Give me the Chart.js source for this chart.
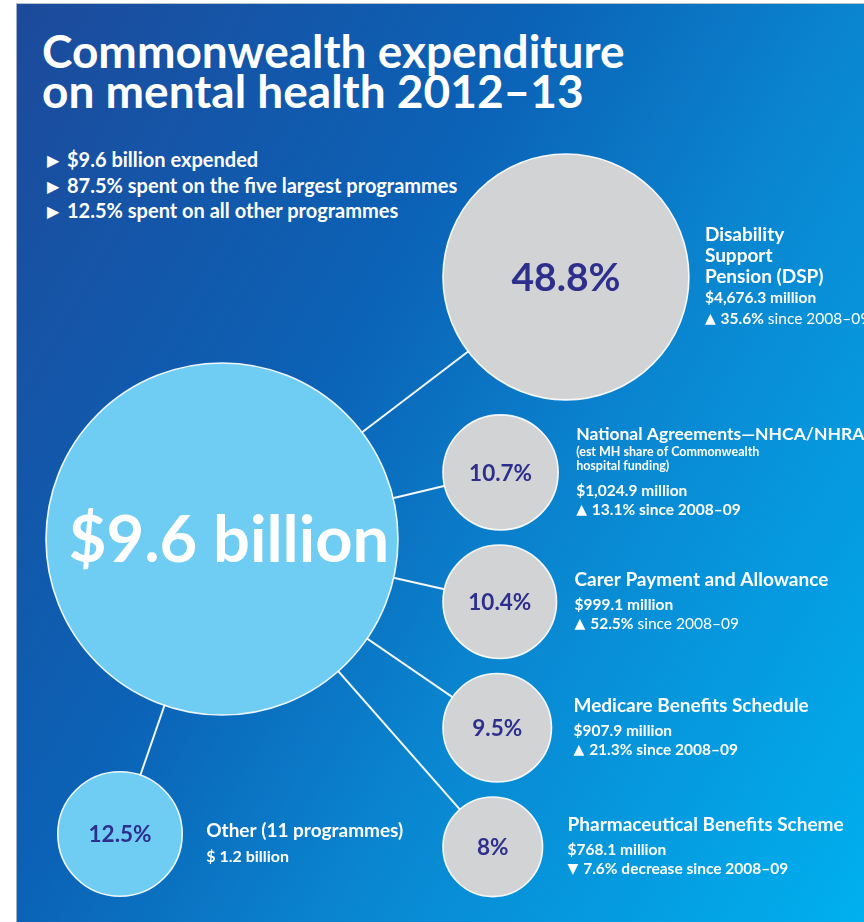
<!DOCTYPE html>
<html>
<head>
<meta charset="utf-8">
<title>Commonwealth expenditure on mental health 2012–13</title>
<script src="https://cdn.jsdelivr.net/npm/chart.js@4.4.1/dist/chart.umd.min.js"></script>
<style>
  html, body { margin: 0; padding: 0; background: #fff; }
  body { width: 864px; height: 922px; position: relative; overflow: hidden; font-family: Lato, "Open Sans", sans-serif; }
  .panel {
    position: absolute; left: 16px; top: 3px; right: 0; bottom: 0;
    border-left: 1px solid #9fb0c6; border-top: 1px solid #b8c3d1;
    background: linear-gradient(120deg, #1d4a9b 0%, #0b62b6 38%, #0a86d0 62%, #00b0ef 100%);
  }
  h1 {
    position: absolute; left: 42px; top: 31px; margin: 0;
    font: 700 46px/40px Lato, sans-serif; color: #fff;
  }
  .facts {
    position: absolute; left: 47px; top: 147px; margin: 0; padding: 0; list-style: none;
    font: 700 20px/25.5px Lato, sans-serif; color: #fff;
  }
  .facts li { height: 25.5px; white-space: nowrap; }
  .facts li span {
    display: inline-block; width: 20px; line-height: 0;
    font-family: "DejaVu Sans", sans-serif; font-size: 16px; vertical-align: 1px;
  }
  #wrap { position: absolute; left: 0; top: 0; width: 864px; height: 922px; }
</style>
</head>
<body>
<div class="panel"></div>
<h1>Commonwealth expenditure<br>on mental health 2012–13</h1>
<ul class="facts" id="facts"></ul>
<div id="wrap"><canvas id="bubbles" width="864" height="922"></canvas></div>
<script>
// Data (2012-13, $ and % of Commonwealth mental health spending)
const totalBillions = 9.6;
const programmeNames = [
    ['Disability', 'Support', 'Pension (DSP)'],
    ['National Agreements—NHCA/NHRA'],
    ['Carer Payment and Allowance'],
    ['Medicare Benefits Schedule'],
    ['Pharmaceutical Benefits Scheme']
];
const programmeNotes = [[], ['(est MH share of Commonwealth', 'hospital funding)'], [], [], []];
const programmeShares = [48.8, 10.7, 10.4, 9.5, 8];
const programmeMillions = [4676.3, 1024.9, 999.1, 907.9, 768.1];
const changeSince0809 = [35.6, 13.1, 52.5, 21.3, -7.6];
const otherShare = 12.5;
const otherCount = 11;
const otherBillions = 1.2;

// Layout
const FULL_R = 176;                 // radius of the 100% bubble, area ~ share
const TOTAL_AT = { x: 222, y: 539 };
const OTHER_AT = { x: 120, y: 834 };
const COLUMN_LEFT = 443, COLUMN_TOP = 154, COLUMN_GAP = 15;
const LABEL_GAP = [16, 18, 18, 22, 25];
const SINCE_BOLD = [false, true, false, true, true];
const INK = '#2e2f8c';
const GREY = '#d2d3d5';
const SKY = '#6fcdf4';

const radius = share => FULL_R * Math.sqrt(share / 100);

// Bullet facts
const facts = [
    '$' + totalBillions + ' billion expended',
    (100 - otherShare) + '% spent on the five largest programmes',
    otherShare + '% spent on all other programmes'
];
document.getElementById('facts').innerHTML = facts.map(t => '<li><span>▶</span>' + t + '</li>').join('');

// Stack the programme bubbles down a left-aligned column
let stackTop = COLUMN_TOP;
const programmePoints = programmeShares.map(s => {
    const r = radius(s);
    const p = { x: COLUMN_LEFT + r, y: stackTop + r, r: r };
    stackTop += 2 * r + COLUMN_GAP;
    return p;
});
const totalPoint = { x: TOTAL_AT.x, y: TOTAL_AT.y, r: FULL_R };
const otherPoint = { x: OTHER_AT.x, y: OTHER_AT.y, r: radius(otherShare) };

// Connector lines from the total bubble to each part
const connectors = programmePoints.concat([otherPoint]).map(p => ({
    type: 'scatter',
    showLine: true,
    data: [{ x: totalPoint.x, y: totalPoint.y }, { x: p.x, y: p.y }],
    borderColor: 'rgba(255,255,255,0.95)',
    borderWidth: 2,
    pointRadius: 0,
    clip: false,
    order: 2
}));

function drawRuns(ctx, x, y, runs) {
    runs.forEach(run => {
        ctx.font = run.font;
        ctx.fillText(run.text, x, y);
        x += ctx.measureText(run.text).width;
    });
}

function fmtMillions(v) {
    return '$' + v.toLocaleString('en-US', { minimumFractionDigits: 1, maximumFractionDigits: 1 }) + ' million';
}

// shrink a bold title a little when it would run off the right edge
function titleFont(ctx, text, room) {
    let size = 19;
    ctx.font = 'bold ' + size + 'px Lato';
    while (size > 17.5 && ctx.measureText(text).width > room) {
        size -= 0.25;
        ctx.font = 'bold ' + size + 'px Lato';
    }
    return ctx.font;
}

const labelPlugin = {
    id: 'bubbleLabels',
    afterDatasetsDraw(chart) {
        const ctx = chart.ctx;
        ctx.save();
        ctx.textBaseline = 'middle';

        // Total bubble
        const tot = chart.getDatasetMeta(connectors.length).data[0];
        ctx.fillStyle = '#fff';
        ctx.textAlign = 'center';
        ctx.font = 'bold 65px Lato';
        ctx.fillText('$' + totalBillions + ' billion', tot.x + 7, tot.y + 2);

        // Programme bubbles: share inside, description to the right
        const progMeta = chart.getDatasetMeta(connectors.length + 1);
        progMeta.data.forEach((el, i) => {
            const r = programmePoints[i].r;
            ctx.textAlign = 'center';
            ctx.fillStyle = INK;
            ctx.font = (r > 100 ? 'bold 39px' : 'bold 22.5px') + ' Lato';
            ctx.fillText(programmeShares[i] + '%', el.x, el.y + 1);

            const x = el.x + r + LABEL_GAP[i];
            const names = programmeNames[i], notes = programmeNotes[i];
            const lines = [];
            names.forEach((t, k) => lines.push({ dy: k ? 21 : 0, runs: [{ text: t, font: titleFont(ctx, t, chart.width + 2 - x) }] }));
            notes.forEach((t, k) => lines.push({ dy: k ? 14 : 17, runs: [{ text: t, font: 'bold 12.5px Lato' }] }));
            const gap = notes.length ? 25 : (names.length > 1 ? 21 : 25);
            lines.push({ dy: gap, runs: [{ text: fmtMillions(programmeMillions[i]), font: 'bold 15.5px Lato' }] });
            const c = changeSince0809[i];
            const tail = (c < 0 ? ' decrease' : '') + ' since 2008–09';
            lines.push({ dy: names.length > 1 ? 21 : 19.5, runs: [
                { text: (c < 0 ? '▼ ' : '▲ '), font: 'bold 14px "DejaVu Sans"' },
                { text: Math.abs(c) + '%', font: 'bold 15.5px Lato' },
                { text: tail, font: (SINCE_BOLD[i] ? 'bold' : 'normal') + ' 15.5px Lato' }
            ] });
            let h = 0;
            lines.forEach((l, k) => { if (k) h += l.dy; });
            let y = el.y - h / 2;
            ctx.textAlign = 'left';
            ctx.fillStyle = '#fff';
            lines.forEach((l, k) => {
                if (k) y += l.dy;
                drawRuns(ctx, x, y, l.runs);
            });
        });

        // Other programmes
        const oth = chart.getDatasetMeta(connectors.length + 2).data[0];
        ctx.textAlign = 'center';
        ctx.fillStyle = INK;
        ctx.font = 'bold 22.5px Lato';
        ctx.fillText(otherShare + '%', oth.x, oth.y + 1);
        ctx.textAlign = 'left';
        ctx.fillStyle = '#fff';
        const ox = oth.x + otherPoint.r + 24;
        drawRuns(ctx, ox, oth.y - 3, [{ text: 'Other (' + otherCount + ' programmes)', font: 'bold 19px Lato' }]);
        drawRuns(ctx, ox, oth.y + 23, [{ text: '$ ' + otherBillions + ' billion', font: 'bold 16px Lato' }]);
        ctx.restore();
    }
};

const bubbleStyle = { borderColor: 'rgba(255,255,255,0.92)', borderWidth: 1.6, clip: false, order: 1 };

new Chart(document.getElementById('bubbles').getContext('2d'), {
    type: 'bubble',
    data: {
        datasets: connectors.concat([
            Object.assign({ label: 'Total', data: [totalPoint], backgroundColor: SKY }, bubbleStyle),
            Object.assign({ label: 'Five largest programmes', data: programmePoints, backgroundColor: GREY }, bubbleStyle),
            Object.assign({ label: 'Other programmes', data: [otherPoint], backgroundColor: SKY }, bubbleStyle)
        ])
    },
    options: {
        responsive: false,
        animation: false,
        events: [],
        layout: { padding: 0, autoPadding: false },
        plugins: { legend: { display: false }, tooltip: { enabled: false } },
        scales: {
            x: { type: 'linear', min: 0, max: 864, display: false },
            y: { type: 'linear', min: 0, max: 922, reverse: true, display: false }
        }
    },
    plugins: [labelPlugin]
});
</script>
</body>
</html>
